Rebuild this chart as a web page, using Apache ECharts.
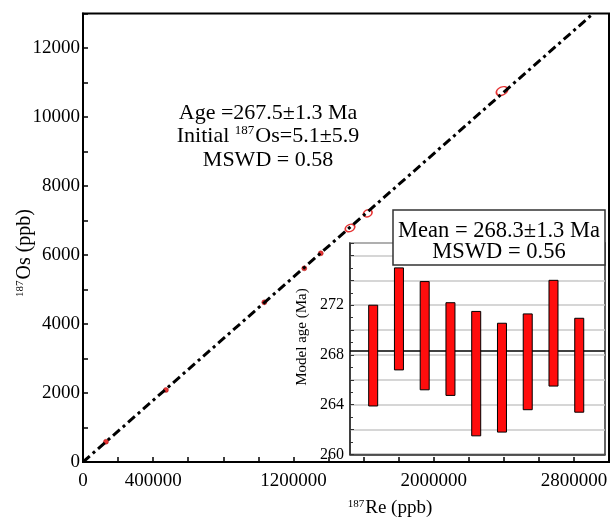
<!DOCTYPE html>
<html>
<head>
<meta charset="utf-8">
<script src="https://cdn.jsdelivr.net/npm/echarts@6/dist/echarts.min.js"></script>
<style>html,body{margin:0;padding:0;background:#fff}#c{width:612px;height:519px}</style>
</head>
<body>
<div id="c"></div>
<script>
// Isochron data (187Re vs 187Os, ppb)
const smallRe = [131000, 473000, 1034000, 1262000, 1356000];
const smallOs = [588, 2087, 4629, 5614, 6049];
const ellRe = [1523000, 1624000, 2390000];
const ellOs = [6783, 7209, 10754];
// Regression line endpoints
const lineRe = [0, 2910000];
const lineOs = [0, 13000];
// Main axis tick labels
const xLabels = [0, 400000, 1200000, 2000000, 2800000];
const yLabels = [0, 2000, 4000, 6000, 8000, 10000, 12000];
// Inset: model ages (Ma)
const sampleIdx = [1, 2, 3, 4, 5, 6, 7, 8, 9];
const ageLow = [263.9, 266.8, 265.2, 264.75, 261.5, 261.8, 263.6, 265.5, 263.4];
const ageHigh = [272.0, 275.0, 273.9, 272.2, 271.5, 270.55, 271.3, 274.0, 270.95];
const meanAge = 268.3;
const insetLabels = [260, 264, 268, 272];

const FONT = '"Liberation Serif", "Times New Roman", serif';
const chart = echarts.init(document.getElementById('c'), null, {renderer: 'canvas'});

const option = {
  animation: false,
  backgroundColor: '#fff',
  grid: [
    {left: 83, right: 3, top: 13.5, bottom: 57, show: true, borderColor: '#000', borderWidth: 2, backgroundColor: 'transparent'},
    {left: 350, right: 7, top: 243, bottom: 64.5, show: true, borderColor: '#333', borderWidth: 1.5, backgroundColor: '#fff'}
  ],
  xAxis: [
    {gridIndex: 0, type: 'value', min: 0, max: 3000000, interval: 200000,
     axisLine: {lineStyle: {color: '#000', width: 2}},
     axisTick: {inside: true, length: 5, lineStyle: {color: '#000', width: 1.5}},
     splitLine: {show: false},
     axisLabel: {margin: 10, color: '#000', fontFamily: FONT, fontSize: 19,
       formatter: v => xLabels.includes(v) ? String(v) : ''}},
    {gridIndex: 1, type: 'value', min: 0.1, max: 10,
     axisLine: {lineStyle: {color: '#333', width: 1.5}},
     axisTick: {show: false}, axisLabel: {show: false}, splitLine: {show: false}}
  ],
  yAxis: [
    {gridIndex: 0, type: 'value', min: 0, max: 13000, interval: 1000,
     axisLine: {lineStyle: {color: '#000', width: 2}},
     axisTick: {inside: true, length: 5, lineStyle: {color: '#000', width: 1.5}},
     splitLine: {show: false},
     axisLabel: {margin: 3, color: '#000', fontFamily: FONT, fontSize: 19,
       formatter: v => yLabels.includes(v) ? String(v) : ''}},
    {gridIndex: 1, type: 'value', min: 260, max: 277, interval: 2,
     axisLine: {lineStyle: {color: '#333', width: 1.5}},
     axisTick: {inside: true, length: 4, lineStyle: {color: '#333'}},
     minorTick: {show: true, splitNumber: 2, length: 3, lineStyle: {color: '#333'}},
     splitLine: {show: true, lineStyle: {color: '#c8c8c8', width: 1.5}},
     axisLabel: {margin: 6, color: '#000', fontFamily: FONT, fontSize: 16,
       formatter: v => insetLabels.includes(v) ? String(v) : ''}}
  ],
  series: [
    {type: 'scatter', xAxisIndex: 0, yAxisIndex: 0, symbol: 'circle', symbolSize: 5, z: 3,
     itemStyle: {color: '#e00000', borderColor: '#a00000', borderWidth: 0.5},
     data: smallRe.map((x, i) => [x, smallOs[i]])},
    {type: 'scatter', xAxisIndex: 0, yAxisIndex: 0, symbol: 'circle', z: 3,
     symbolSize: (v, p) => [[10, 7], [9, 7], [12, 8]][p.dataIndex], symbolRotate: 25,
     itemStyle: {color: 'rgba(255,255,255,0)', borderColor: '#e00000', borderWidth: 1.5},
     data: ellRe.map((x, i) => [x, ellOs[i]])},
    {type: 'line', xAxisIndex: 0, yAxisIndex: 0, symbol: 'none', z: 4,
     lineStyle: {color: '#000', width: 3, type: [9, 4, 3, 4], cap: 'butt'},
     data: lineRe.map((x, i) => [x, lineOs[i]])},
    {type: 'custom', xAxisIndex: 1, yAxisIndex: 1, z: 7,
     renderItem: function (params, api) {
       const x = api.value(0), lo = api.value(1), hi = api.value(2);
       const p1 = api.coord([x, hi]);
       const p2 = api.coord([x, lo]);
       const w = 9;
       return {type: 'rect', shape: {x: p1[0] - w / 2, y: p1[1], width: w, height: p2[1] - p1[1]},
               style: {fill: '#ff0d0d', stroke: '#000', lineWidth: 1}};
     },
     data: sampleIdx.map((s, i) => [s, ageLow[i], ageHigh[i]]),
     markLine: {silent: true, symbol: 'none', label: {show: false},
       lineStyle: {color: '#000', width: 1.5, type: 'solid'},
       data: [{yAxis: meanAge}]}}
  ],
  graphic: {
    z: 200, zlevel: 0,
    elements: [
    {type: 'text', z: 100,
     style: {x: 268, y: 101, text: 'Age =267.5±1.3 Ma\nInitial {sup|187}Os=5.1±5.9\nMSWD = 0.58',
       textAlign: 'center', textVerticalAlign: 'top',
       font: '22px ' + FONT, fill: '#000', lineHeight: 23.5,
       rich: {sup: {fontSize: 13, fontFamily: FONT, verticalAlign: 'top', lineHeight: 23.5, padding: [0,1,0,0]}}}},
    {type: 'rect', z: 100, shape: {x: 393, y: 210, width: 212, height: 55},
     style: {fill: '#fff', stroke: '#333', lineWidth: 1.5}},
    {type: 'text', z: 101, style: {x: 499, y: 220, text: 'Mean = 268.3±1.3 Ma\nMSWD = 0.56',
      textAlign: 'center', textVerticalAlign: 'top', font: '22.5px ' + FONT, fill: '#000', lineHeight: 21.7}},
    {type: 'text', z: 100, x: 390, y: 508,
     style: {text: '{sup|187}Re (ppb)', textAlign: 'center', textVerticalAlign: 'middle',
       font: '19px ' + FONT, fill: '#000',
       rich: {sup: {fontSize: 11, fontFamily: FONT, verticalAlign: 'top', padding: [0,1,0,0]}}}},
    {type: 'text', z: 100, x: 25, y: 253, rotation: Math.PI / 2,
     style: {text: '{sup|187}Os (ppb)', textAlign: 'center', textVerticalAlign: 'middle',
       font: '20px ' + FONT, fill: '#000',
       rich: {sup: {fontSize: 11, fontFamily: FONT, verticalAlign: 'top', padding: [0,1,0,0]}}}},
    {type: 'text', z: 100, x: 302, y: 337, rotation: Math.PI / 2,
     style: {text: 'Model age (Ma)', textAlign: 'center', textVerticalAlign: 'middle',
       font: '15px ' + FONT, fill: '#000'}}
    ]
  }
};
chart.setOption(option);
</script>
</body>
</html>
